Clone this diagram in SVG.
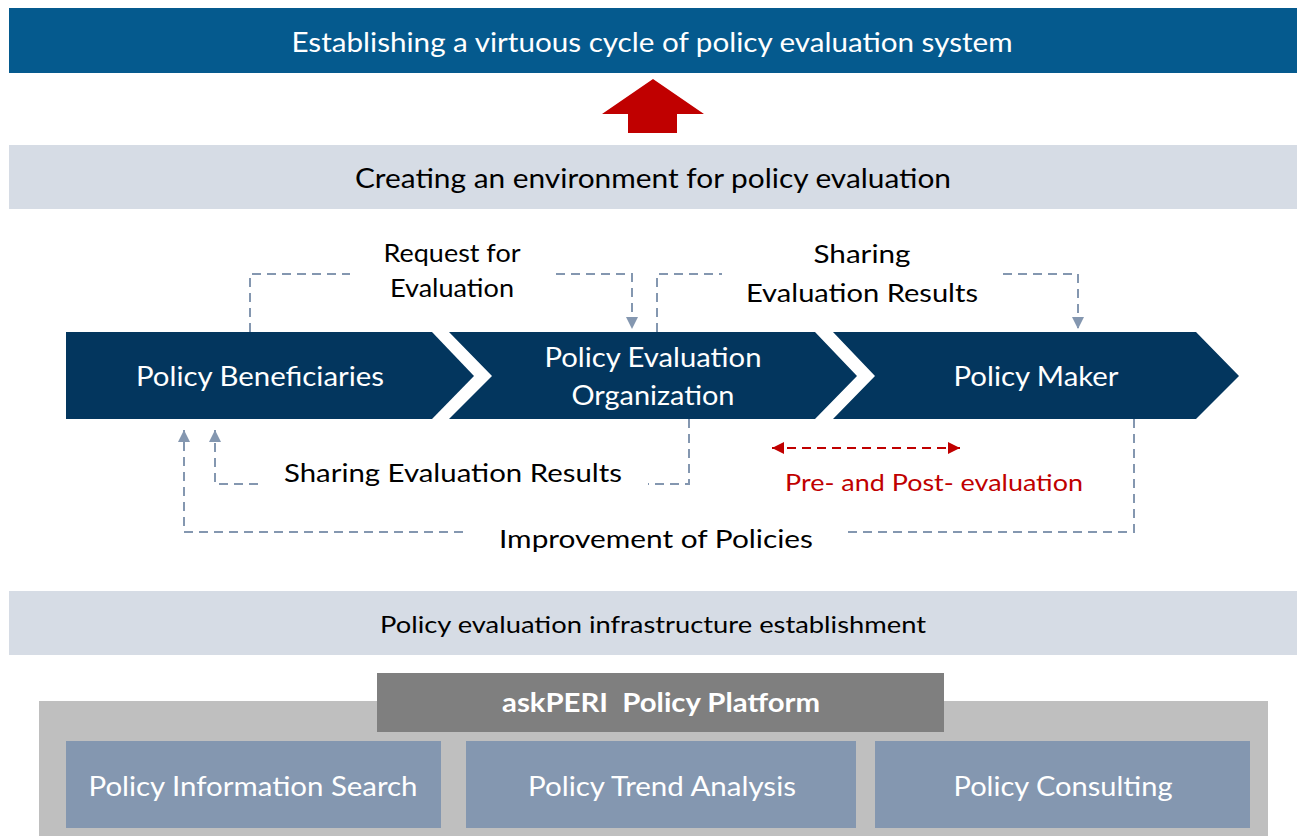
<svg xmlns="http://www.w3.org/2000/svg" width="1297" height="836" viewBox="0 0 1297 836">
<defs>
<style>
text{font-family:"Lato","Open Sans","Liberation Sans",sans-serif;text-anchor:middle}
.w{fill:#FFFFFF}
.k{fill:#000000}
.r{fill:#C00000}
.t26{font-size:26px}
.t25{font-size:25px}
.t24{font-size:24px}
.band{fill:#D6DCE5}
.chev{fill:#03365E}
.box{fill:#8497B0}
.dash{fill:none;stroke:#8497B0;stroke-width:2;stroke-dasharray:9 6}
.rdash{fill:none;stroke:#C00000;stroke-width:2;stroke-dasharray:9 6}
</style>
<marker id="ah" viewBox="0 0 10 10" refX="10" refY="5" markerWidth="6" markerHeight="6" markerUnits="strokeWidth" orient="auto">
<path d="M0,0 L10,5 L0,10 z" fill="#8497B0"/>
</marker>
<marker id="rh" viewBox="0 0 10 10" refX="10" refY="5" markerWidth="6" markerHeight="7" markerUnits="strokeWidth" orient="auto-start-reverse">
<path d="M0,0 L10,5 L0,10 z" fill="#C00000"/>
</marker>
</defs>
<rect width="1297" height="836" fill="#FFFFFF"/>

<g id="goal">
<rect x="9" y="8" width="1288" height="65" fill="#055A8E"/>
<text class="w t26" x="652" y="52" textLength="721" lengthAdjust="spacingAndGlyphs">Establishing a virtuous cycle of policy evaluation system</text>
</g>

<g id="up-arrow">
<polygon points="653,79 704,114 677,114 677,133 628,133 628,114 602,114" fill="#C00000"/>
</g>

<g id="environment">
<rect class="band" x="9" y="145" width="1288" height="64"/>
<text class="k t26" x="653" y="188" textLength="596" lengthAdjust="spacingAndGlyphs">Creating an environment for policy evaluation</text>
</g>

<g id="beneficiaries">
<polygon class="chev" points="66,332 432,332 474,376 432,419 66,419"/>
<text class="w t26" x="260" y="386" textLength="248" lengthAdjust="spacingAndGlyphs">Policy Beneficiaries</text>
</g>

<g id="evaluation-org">
<polygon class="chev" points="449,332 815,332 857,376 815,419 449,419 492,376"/>
<text class="w t26" x="653" y="367" textLength="217" lengthAdjust="spacingAndGlyphs">Policy Evaluation</text>
<text class="w t26" x="653" y="405" textLength="163" lengthAdjust="spacingAndGlyphs">Organization</text>
</g>

<g id="policy-maker">
<polygon class="chev" points="833,332 1196,332 1239,376 1196,419 833,419 875,376"/>
<text class="w t26" x="1036" y="386" textLength="165" lengthAdjust="spacingAndGlyphs">Policy Maker</text>
</g>

<g id="connectors">
<path class="dash" d="M250,332 V274 H350"/>
<path class="dash" d="M556,274 H632 V329" marker-end="url(#ah)"/>
<path class="dash" d="M657,332 V274 H722"/>
<path class="dash" d="M1003,274 H1078 V329" marker-end="url(#ah)"/>
<path class="dash" d="M689,419 V484 H648"/>
<path class="dash" d="M258,484 H215 V430" marker-end="url(#ah)"/>
<path class="dash" d="M1134,419 V532 H842"/>
<path class="dash" d="M463,532 H184 V430" marker-end="url(#ah)"/>
<path class="rdash" d="M772,448 H960" marker-start="url(#rh)" marker-end="url(#rh)"/>
</g>

<g id="labels">
<text class="k t25" x="452" y="262" textLength="137" lengthAdjust="spacingAndGlyphs">Request for</text>
<text class="k t25" x="452" y="297" textLength="124" lengthAdjust="spacingAndGlyphs">Evaluation</text>
<text class="k t25" x="862" y="263" textLength="97" lengthAdjust="spacingAndGlyphs">Sharing</text>
<text class="k t25" x="862" y="302" textLength="232" lengthAdjust="spacingAndGlyphs">Evaluation Results</text>
<text class="k t25" x="453" y="482" textLength="338" lengthAdjust="spacingAndGlyphs">Sharing Evaluation Results</text>
<text class="k t25" x="656" y="548" textLength="314" lengthAdjust="spacingAndGlyphs">Improvement of Policies</text>
<text class="r t24" x="934" y="491" textLength="298" lengthAdjust="spacingAndGlyphs">Pre- and Post- evaluation</text>
</g>

<g id="infrastructure">
<rect class="band" x="9" y="591" width="1288" height="64"/>
<text class="k t24" x="653" y="633" textLength="546" lengthAdjust="spacingAndGlyphs">Policy evaluation infrastructure establishment</text>
</g>

<g id="platform">
<rect x="39" y="701" width="1229" height="135" fill="#BFBFBF"/>
<rect x="377" y="673" width="567" height="59" fill="#7F7F7F"/>
<text class="w t26" x="661" y="712" font-weight="bold" textLength="318" lengthAdjust="spacingAndGlyphs" xml:space="preserve">askPERI  Policy Platform</text>
</g>

<g id="info-search">
<rect class="box" x="66" y="741" width="375" height="87"/>
<text class="w t26" x="253" y="796" textLength="329" lengthAdjust="spacingAndGlyphs">Policy Information Search</text>
</g>

<g id="trend-analysis">
<rect class="box" x="466" y="741" width="390" height="87"/>
<text class="w t26" x="662" y="796" textLength="268" lengthAdjust="spacingAndGlyphs">Policy Trend Analysis</text>
</g>

<g id="consulting">
<rect class="box" x="875" y="741" width="375" height="87"/>
<text class="w t26" x="1063" y="796" textLength="219" lengthAdjust="spacingAndGlyphs">Policy Consulting</text>
</g>
</svg>
